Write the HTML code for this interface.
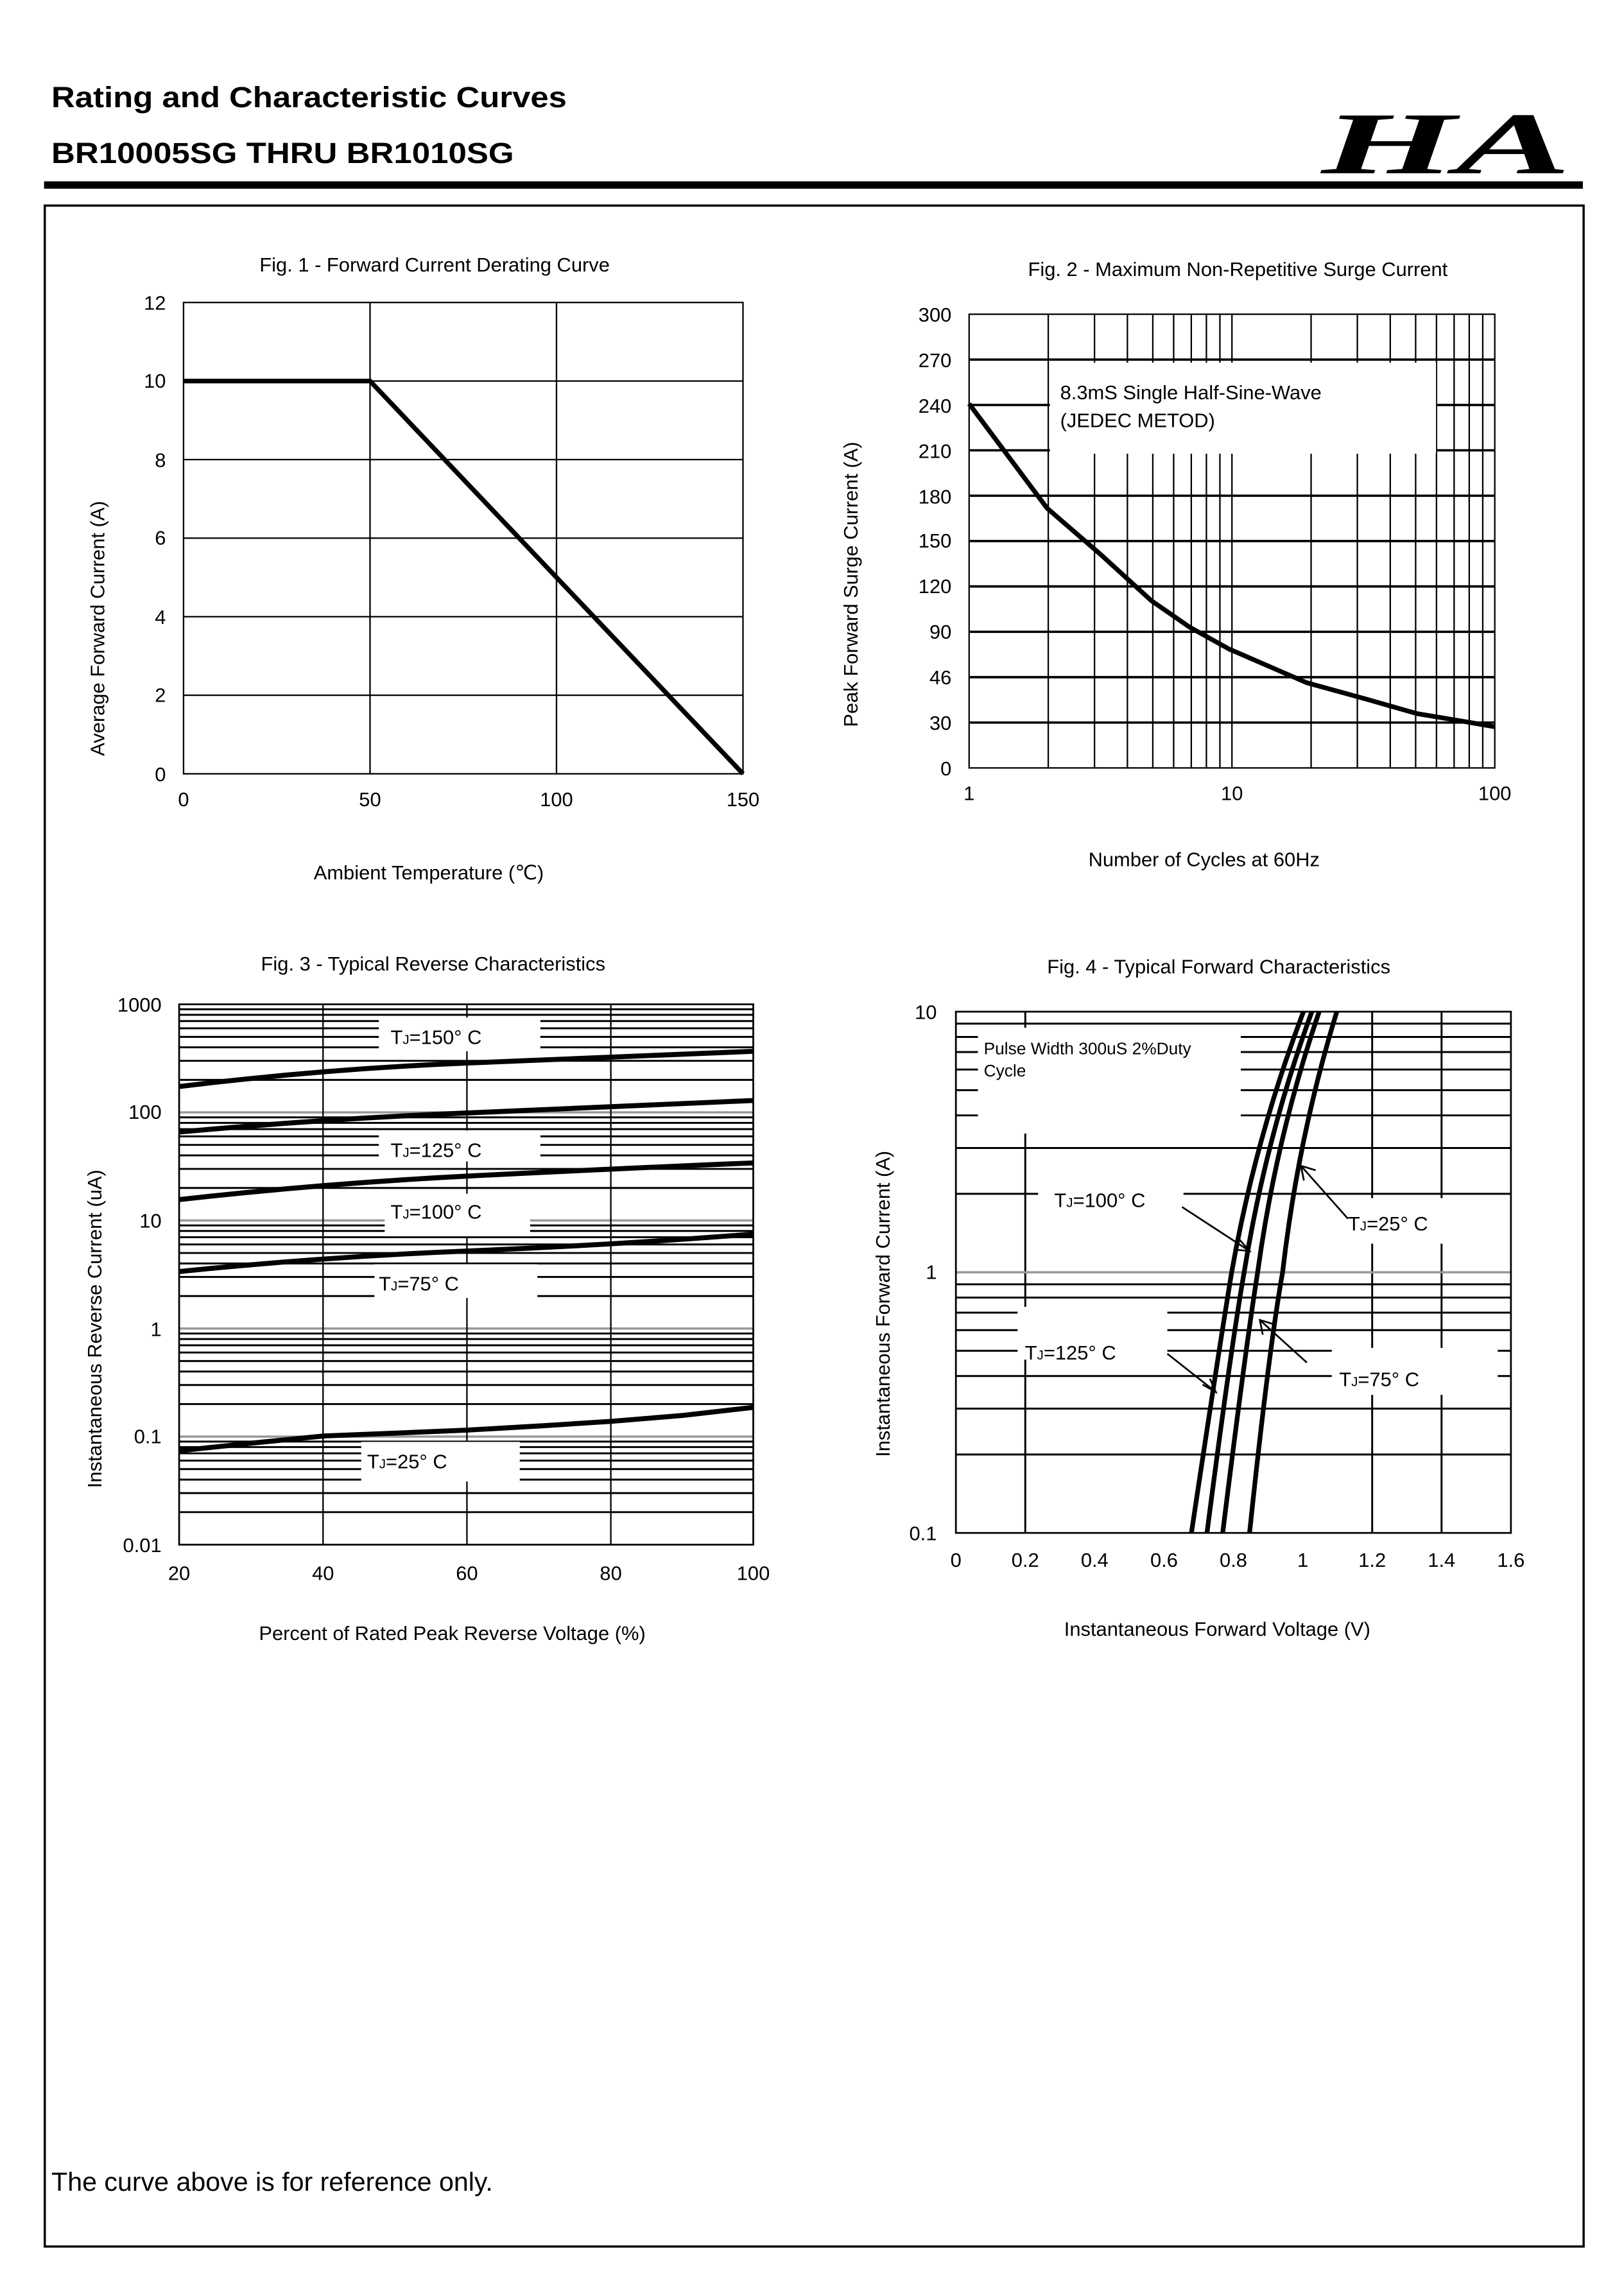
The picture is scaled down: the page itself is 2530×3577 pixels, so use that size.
<!DOCTYPE html>
<html><head><meta charset="utf-8"><style>
html,body{margin:0;padding:0;background:#fff;}
svg{display:block;}
text{font-family:"Liberation Sans",Arial,sans-serif;fill:#000;}
</style></head><body>
<svg width="2530" height="3577" viewBox="0 0 1106 1563.7" preserveAspectRatio="none" xmlns="http://www.w3.org/2000/svg">
<rect width="1106" height="1563.7" fill="#fff"/>
<!-- header -->
<text x="35" y="73" font-size="20" font-weight="bold" textLength="351" lengthAdjust="spacingAndGlyphs">Rating and Characteristic Curves</text>
<text x="35" y="111" font-size="20" font-weight="bold" textLength="315" lengthAdjust="spacingAndGlyphs">BR10005SG THRU BR1010SG</text>
<text x="900" y="118" font-size="60" font-weight="bold" font-style="italic" textLength="170" lengthAdjust="spacingAndGlyphs" style="font-family:'Liberation Serif',serif">HA</text>
<rect x="30" y="123.5" width="1048" height="5" fill="#000"/>
<rect x="30.5" y="140" width="1048" height="1390" fill="none" stroke="#000" stroke-width="1.5"/>

<!-- FIG 1 -->
<text x="296" y="185" font-size="13.5" text-anchor="middle">Fig. 1 - Forward Current Derating Curve</text>
<g stroke="#000" stroke-width="1">
<line x1="125" y1="259.5" x2="506" y2="259.5"/><line x1="125" y1="313" x2="506" y2="313"/>
<line x1="125" y1="366.5" x2="506" y2="366.5"/><line x1="125" y1="420" x2="506" y2="420"/>
<line x1="125" y1="473.5" x2="506" y2="473.5"/>
<line x1="252" y1="206" x2="252" y2="527"/><line x1="379" y1="206" x2="379" y2="527"/>
<rect x="125" y="206" width="381" height="321" fill="none"/>
</g>
<polyline points="125,259.5 252,259.5 506,527" fill="none" stroke="#000" stroke-width="3.2"/>
<g font-size="13.5" text-anchor="end">
<text x="113" y="211">12</text><text x="113" y="264">10</text><text x="113" y="318">8</text>
<text x="113" y="371">6</text><text x="113" y="425">4</text><text x="113" y="478">2</text><text x="113" y="532">0</text>
</g>
<g font-size="13.5" text-anchor="middle">
<text x="125" y="549">0</text><text x="252" y="549">50</text><text x="379" y="549">100</text><text x="506" y="549">150</text>
<text x="292" y="599">Ambient Temperature (℃)</text>
</g>
<text transform="translate(71,428) rotate(-90)" font-size="13.5" text-anchor="middle">Average Forward Current (A)</text>

<!-- FIG 2 -->
<text x="843" y="188" font-size="13.5" text-anchor="middle">Fig. 2 - Maximum Non-Repetitive Surge Current</text>
<g stroke="#000" stroke-width="1">
<line x1="713.9" y1="214" x2="713.9" y2="523"/><line x1="745.4" y1="214" x2="745.4" y2="523"/>
<line x1="767.8" y1="214" x2="767.8" y2="523"/><line x1="785.1" y1="214" x2="785.1" y2="523"/>
<line x1="799.3" y1="214" x2="799.3" y2="523"/><line x1="811.3" y1="214" x2="811.3" y2="523"/>
<line x1="821.6" y1="214" x2="821.6" y2="523"/><line x1="830.8" y1="214" x2="830.8" y2="523"/>
<line x1="839" y1="214" x2="839" y2="523"/>
<line x1="892.9" y1="214" x2="892.9" y2="523"/><line x1="924.4" y1="214" x2="924.4" y2="523"/>
<line x1="946.8" y1="214" x2="946.8" y2="523"/><line x1="964.1" y1="214" x2="964.1" y2="523"/>
<line x1="978.3" y1="214" x2="978.3" y2="523"/><line x1="990.3" y1="214" x2="990.3" y2="523"/>
<line x1="1000.6" y1="214" x2="1000.6" y2="523"/><line x1="1009.8" y1="214" x2="1009.8" y2="523"/>
</g>
<g stroke="#000" stroke-width="1.6">
<line x1="660" y1="244.9" x2="1018" y2="244.9"/><line x1="660" y1="275.8" x2="1018" y2="275.8"/>
<line x1="660" y1="306.7" x2="1018" y2="306.7"/><line x1="660" y1="337.6" x2="1018" y2="337.6"/>
<line x1="660" y1="368.5" x2="1018" y2="368.5"/><line x1="660" y1="399.4" x2="1018" y2="399.4"/>
<line x1="660" y1="430.3" x2="1018" y2="430.3"/><line x1="660" y1="461.2" x2="1018" y2="461.2"/>
<line x1="660" y1="492.1" x2="1018" y2="492.1"/>
</g>
<rect x="715" y="247" width="263" height="62" fill="#fff"/>
<rect x="660" y="214" width="358" height="309" fill="none" stroke="#000" stroke-width="1"/>
<text x="722" y="272" font-size="13.5">8.3mS Single Half-Sine-Wave</text>
<text x="722" y="291" font-size="13.5">(JEDEC METOD)</text>
<polyline points="660,275 713,346 750,378 784,409 810,427 837,442 890,465 930,476 965,486 995,491 1018,495" fill="none" stroke="#000" stroke-width="3.2" stroke-linejoin="round"/>
<g font-size="13.5" text-anchor="end">
<text x="648" y="219">300</text><text x="648" y="250">270</text><text x="648" y="281">240</text>
<text x="648" y="312">210</text><text x="648" y="343">180</text><text x="648" y="373">150</text>
<text x="648" y="404">120</text><text x="648" y="435">90</text><text x="648" y="466">46</text>
<text x="648" y="497">30</text><text x="648" y="528">0</text>
</g>
<g font-size="13.5" text-anchor="middle">
<text x="660" y="545">1</text><text x="839" y="545">10</text><text x="1018" y="545">100</text>
<text x="820" y="590">Number of Cycles at 60Hz</text>
</g>
<text transform="translate(584,398) rotate(-90)" font-size="13.5" text-anchor="middle">Peak Forward Surge Current (A)</text>

<!-- FIG 3 -->
<text x="295" y="661" font-size="13.5" text-anchor="middle">Fig. 3 - Typical Reverse Characteristics</text>
<g stroke="#000" stroke-width="1.3">
<line x1="122" y1="1029.85" x2="513" y2="1029.85"/><line x1="122" y1="1016.88" x2="513" y2="1016.88"/><line x1="122" y1="1007.69" x2="513" y2="1007.69"/><line x1="122" y1="1000.55" x2="513" y2="1000.55"/><line x1="122" y1="994.73" x2="513" y2="994.73"/><line x1="122" y1="989.8" x2="513" y2="989.8"/><line x1="122" y1="985.54" x2="513" y2="985.54"/><line x1="122" y1="981.78" x2="513" y2="981.78"/>
<line x1="122" y1="956.25" x2="513" y2="956.25"/><line x1="122" y1="943.28" x2="513" y2="943.28"/><line x1="122" y1="934.09" x2="513" y2="934.09"/><line x1="122" y1="926.95" x2="513" y2="926.95"/><line x1="122" y1="921.13" x2="513" y2="921.13"/><line x1="122" y1="916.2" x2="513" y2="916.2"/><line x1="122" y1="911.94" x2="513" y2="911.94"/><line x1="122" y1="908.18" x2="513" y2="908.18"/>
<line x1="122" y1="882.65" x2="513" y2="882.65"/><line x1="122" y1="869.68" x2="513" y2="869.68"/><line x1="122" y1="860.49" x2="513" y2="860.49"/><line x1="122" y1="853.35" x2="513" y2="853.35"/><line x1="122" y1="847.53" x2="513" y2="847.53"/><line x1="122" y1="842.6" x2="513" y2="842.6"/><line x1="122" y1="838.34" x2="513" y2="838.34"/><line x1="122" y1="834.58" x2="513" y2="834.58"/>
<line x1="122" y1="809.05" x2="513" y2="809.05"/><line x1="122" y1="796.08" x2="513" y2="796.08"/><line x1="122" y1="786.89" x2="513" y2="786.89"/><line x1="122" y1="779.75" x2="513" y2="779.75"/><line x1="122" y1="773.93" x2="513" y2="773.93"/><line x1="122" y1="769" x2="513" y2="769"/><line x1="122" y1="764.74" x2="513" y2="764.74"/><line x1="122" y1="760.98" x2="513" y2="760.98"/>
<line x1="122" y1="735.45" x2="513" y2="735.45"/><line x1="122" y1="722.48" x2="513" y2="722.48"/><line x1="122" y1="713.29" x2="513" y2="713.29"/><line x1="122" y1="706.15" x2="513" y2="706.15"/><line x1="122" y1="700.33" x2="513" y2="700.33"/><line x1="122" y1="695.4" x2="513" y2="695.4"/><line x1="122" y1="691.14" x2="513" y2="691.14"/><line x1="122" y1="687.38" x2="513" y2="687.38"/>
</g>
<g stroke="#999" stroke-width="1.5">
<line x1="122" y1="978.4" x2="513" y2="978.4"/><line x1="122" y1="904.8" x2="513" y2="904.8"/>
<line x1="122" y1="831.2" x2="513" y2="831.2"/><line x1="122" y1="757.6" x2="513" y2="757.6"/>
</g>
<g stroke="#000" stroke-width="1">
<line x1="220" y1="684" x2="220" y2="1052"/><line x1="318" y1="684" x2="318" y2="1052"/><line x1="416" y1="684" x2="416" y2="1052"/>
</g>
<g fill="#fff">
<rect x="258" y="693" width="110" height="23"/><rect x="258" y="770" width="110" height="21"/>
<rect x="262" y="813" width="99" height="29"/><rect x="255" y="861" width="111" height="23"/>
<rect x="246" y="982" width="108" height="27"/>
</g>
<rect x="122" y="684" width="391" height="368" fill="none" stroke="#000" stroke-width="1.2"/>
<g fill="none" stroke="#000" stroke-width="3.4" stroke-linejoin="round">
<path d="M122,740 Q220,728 318,724 T513,716"/>
<path d="M122,771 Q220,762 318,758 T513,749.5"/>
<path d="M122,817 Q220,806 318,801 T513,792"/>
<path d="M122,866 Q220,856 318,852 T513,840.5"/>
<polyline points="122,988 170,983 220,978 270,976 318,974 370,971 416,968 465,964 513,958.5"/>
</g>
<g font-size="13.5">
<text x="266" y="711">T<tspan font-size="9">J</tspan>=150°  C</text>
<text x="266" y="788">T<tspan font-size="9">J</tspan>=125°  C</text>
<text x="266" y="830">T<tspan font-size="9">J</tspan>=100°  C</text>
<text x="258" y="879">T<tspan font-size="9">J</tspan>=75°  C</text>
<text x="250" y="1000">T<tspan font-size="9">J</tspan>=25°  C</text>
</g>
<g font-size="13.5" text-anchor="end">
<text x="110" y="689">1000</text><text x="110" y="762">100</text><text x="110" y="836">10</text>
<text x="110" y="910">1</text><text x="110" y="983">0.1</text><text x="110" y="1057">0.01</text>
</g>
<g font-size="13.5" text-anchor="middle">
<text x="122" y="1076">20</text><text x="220" y="1076">40</text><text x="318" y="1076">60</text>
<text x="416" y="1076">80</text><text x="513" y="1076">100</text>
<text x="308" y="1117">Percent of Rated Peak Reverse Voltage (%)</text>
</g>
<text transform="translate(69,905) rotate(-90)" font-size="13.5" text-anchor="middle">Instantaneous Reverse Current (uA)</text>

<!-- FIG 4 -->
<text x="830" y="663" font-size="13.5" text-anchor="middle">Fig. 4 - Typical Forward Characteristics</text>
<g stroke="#000" stroke-width="1.3">
<line x1="651" y1="990.57" x2="1029" y2="990.57"/><line x1="651" y1="959.33" x2="1029" y2="959.33"/><line x1="651" y1="937.14" x2="1029" y2="937.14"/><line x1="651" y1="919.93" x2="1029" y2="919.93"/><line x1="651" y1="905.9" x2="1029" y2="905.9"/><line x1="651" y1="894" x2="1029" y2="894"/><line x1="651" y1="883.72" x2="1029" y2="883.72"/><line x1="651" y1="874.67" x2="1029" y2="874.67"/>
<line x1="651" y1="813.07" x2="1029" y2="813.07"/><line x1="651" y1="781.83" x2="1029" y2="781.83"/><line x1="651" y1="759.64" x2="1029" y2="759.64"/><line x1="651" y1="742.43" x2="1029" y2="742.43"/><line x1="651" y1="728.4" x2="1029" y2="728.4"/><line x1="651" y1="716.5" x2="1029" y2="716.5"/><line x1="651" y1="706.22" x2="1029" y2="706.22"/><line x1="651" y1="697.17" x2="1029" y2="697.17"/>
<line x1="698.25" y1="689" x2="698.25" y2="1044"/><line x1="934.5" y1="689" x2="934.5" y2="1044"/><line x1="981.75" y1="689" x2="981.75" y2="1044"/>
</g>
<line x1="651" y1="866.5" x2="1029" y2="866.5" stroke="#999" stroke-width="1.5"/>
<g fill="#fff">
<rect x="666" y="700" width="179" height="72"/>
<rect x="707" y="801" width="99" height="25"/>
<rect x="907" y="816" width="81" height="31"/>
<rect x="693" y="890" width="102" height="36"/>
<rect x="907" y="918" width="113" height="32"/>
</g>
<rect x="651" y="689" width="378" height="355" fill="none" stroke="#000" stroke-width="1.2"/>
<g fill="none" stroke="#000" stroke-width="3.2" stroke-linejoin="round">
<path d="M811.4,1044 Q830,920 838.8,866.5 Q855,775 887.7,689"/>
<path d="M822,1044 Q838,920 847.3,866.5 Q862,775 893.4,689"/>
<path d="M832.7,1044 Q848,920 856.5,866.5 Q869,775 898.4,689"/>
<path d="M851,1044 Q864,920 873.5,866.5 Q884,775 910.4,689"/>
</g>
<g stroke="#000" stroke-width="1.2" fill="none">
<line x1="805" y1="822" x2="851" y2="852"/><polyline points="843,843 851,852 840,851"/>
<line x1="918" y1="830" x2="886" y2="794"/><polyline points="888,804 886,794 896,797"/>
<line x1="795" y1="922" x2="828" y2="948"/><polyline points="819,943 828,948 824,939"/>
<line x1="890" y1="928" x2="858" y2="899"/><polyline points="860,909 858,899 868,902"/>
</g>
<text x="670" y="718" font-size="11.5">Pulse Width 300uS 2%Duty</text>
<text x="670" y="733" font-size="11.5">Cycle</text>
<g font-size="13.5">
<text x="718" y="822">T<tspan font-size="9">J</tspan>=100°  C</text>
<text x="918" y="838">T<tspan font-size="9">J</tspan>=25°  C</text>
<text x="698" y="926">T<tspan font-size="9">J</tspan>=125°  C</text>
<text x="912" y="944">T<tspan font-size="9">J</tspan>=75°  C</text>
</g>
<g font-size="13.5" text-anchor="end">
<text x="638" y="694">10</text><text x="638" y="871">1</text><text x="638" y="1049">0.1</text>
</g>
<g font-size="13.5" text-anchor="middle">
<text x="651" y="1067">0</text><text x="698.25" y="1067">0.2</text><text x="745.5" y="1067">0.4</text>
<text x="792.75" y="1067">0.6</text><text x="840" y="1067">0.8</text><text x="887.25" y="1067">1</text>
<text x="934.5" y="1067">1.2</text><text x="981.75" y="1067">1.4</text><text x="1029" y="1067">1.6</text>
<text x="829" y="1114">Instantaneous Forward Voltage (V)</text>
</g>
<text transform="translate(606,888) rotate(-90)" font-size="13.5" text-anchor="middle">Instantaneous Forward Current (A)</text>

<text x="35" y="1492" font-size="18">The curve above is for reference only.</text>
</svg>
</body></html>
